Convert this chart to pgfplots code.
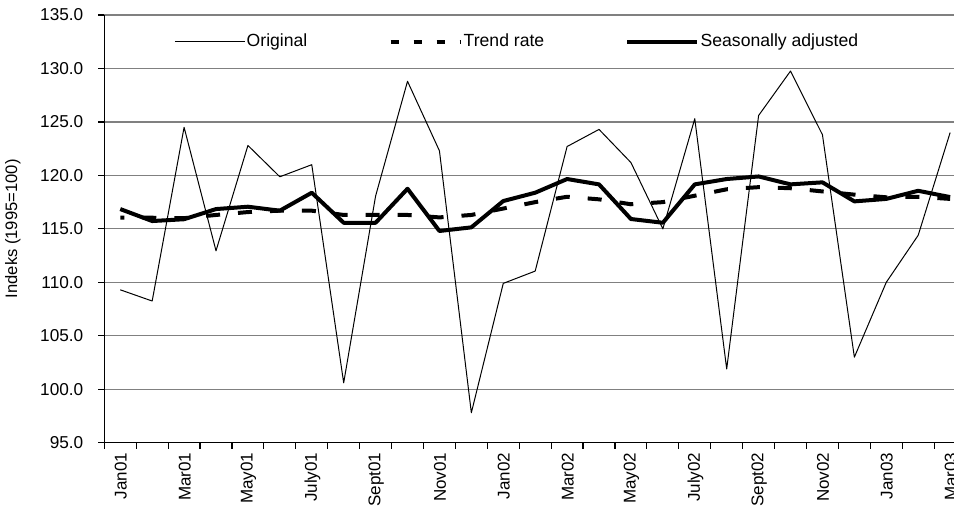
\documentclass[border=0pt]{standalone}
\usepackage{pgfplots}
\pgfplotsset{compat=1.18}
\usepackage{fontspec}
\setmainfont{Liberation Sans}

\definecolor{gridgray}{RGB}{128,128,128}

\begin{document}
\begin{tikzpicture}
\begin{axis}[
  at={(0,0)}, anchor=south west,
  scale only axis, width=424.9pt, height=213.85pt,
  xmin=-0.5, xmax=26.125, ymin=95, ymax=135,
  axis x line=bottom, axis y line=left,
  x axis line style={-, black, line width=0.7pt},
  y axis line style={-, black, line width=0.7pt},
  ytick={95,100,...,135},
  ymajorgrids=true,
  major grid style={gridgray, line width=0.6pt},
  yticklabel style={/pgf/number format/fixed, /pgf/number format/precision=1,
    /pgf/number format/fixed zerofill, font=\fontsize{8.6}{10}\selectfont, xshift=-4pt},
  /pgf/number format/assume math mode=true,
  tick align=outside, major tick length=3pt,
  tick style={black, line width=0.6pt},
  xtick={-0.5,0.5,...,25.5}, xticklabels={},
  extra x ticks={0,2,...,26},
  extra x tick labels={Jan01,Mar01,May01,July01,Sept01,Nov01,Jan02,Mar02,May02,July02,Sept02,Nov02,Jan03,Mar03},
  extra x tick style={major tick length=0pt, grid=none,
    xticklabel style={rotate=90, anchor=east, font=\fontsize{8.5}{10}\selectfont, xshift=-1.5pt, yshift=-0.3pt}},
  ylabel={Indeks (1995=100)},
  ylabel shift=3pt,
  ylabel style={font=\fontsize{8.3}{10}\selectfont},
  legend style={at={(0.4856,0.937)}, anchor=center, draw=none, fill=none,
    font=\fontsize{8.8}{10}\selectfont, legend columns=3,
    nodes={inner xsep=0.6pt},
    /tikz/every even column/.append style={column sep=40pt}},
  legend image code/.code={\draw[#1] (0pt,0pt) -- (35pt,0pt);},
  line join=round,
]
\addplot[black, line width=0.5pt] coordinates {
 (0,109.3) (1,108.25) (2,124.5) (3,112.95) (4,122.8) (5,119.87) (6,121.0)
 (7,100.6) (8,118.07) (9,128.8) (10,122.3) (11,97.8) (12,109.9) (13,111.05)
 (14,122.7) (15,124.3) (16,121.2) (17,115.0) (18,125.3) (19,101.9) (20,125.6)
 (21,129.76) (22,123.8) (23,103.0) (24,110.0) (25,114.4) (26,124.0)};
\addlegendentry{Original}
\addplot[black, line width=2pt, line join=miter, dash pattern=on 7pt off 9pt, dash phase=5pt,
  legend image post style={dash pattern=on 4pt off 7.5pt, dash phase=0pt}] coordinates {
 (0,116.04) (1,116.04) (2,116.0) (3,116.3) (4,116.57) (5,116.7) (6,116.7)
 (7,116.3) (8,116.3) (9,116.3) (10,116.07) (11,116.3) (12,116.9) (13,117.5)
 (14,118.0) (15,117.76) (16,117.3) (17,117.5) (18,118.1) (19,118.7) (20,118.9)
 (21,118.8) (22,118.5) (23,118.2) (24,117.95) (25,118.0) (26,117.8)};
\addlegendentry{Trend rate}
\addplot[black, line width=2pt] coordinates {
 (0,116.85) (1,115.73) (2,115.9) (3,116.85) (4,117.07) (5,116.7) (6,118.38)
 (7,115.57) (8,115.57) (9,118.75) (10,114.8) (11,115.14) (12,117.6) (13,118.38)
 (14,119.66) (15,119.16) (16,115.92) (17,115.57) (18,119.16) (19,119.66) (20,119.9)
 (21,119.16) (22,119.35) (23,117.57) (24,117.8) (25,118.56) (26,117.97)};
\addlegendentry{Seasonally adjusted}
\end{axis}
\pgfresetboundingbox
\path (-52.15pt,-36.15pt) rectangle (424.85pt,221.35pt);
\end{tikzpicture}
\end{document}
